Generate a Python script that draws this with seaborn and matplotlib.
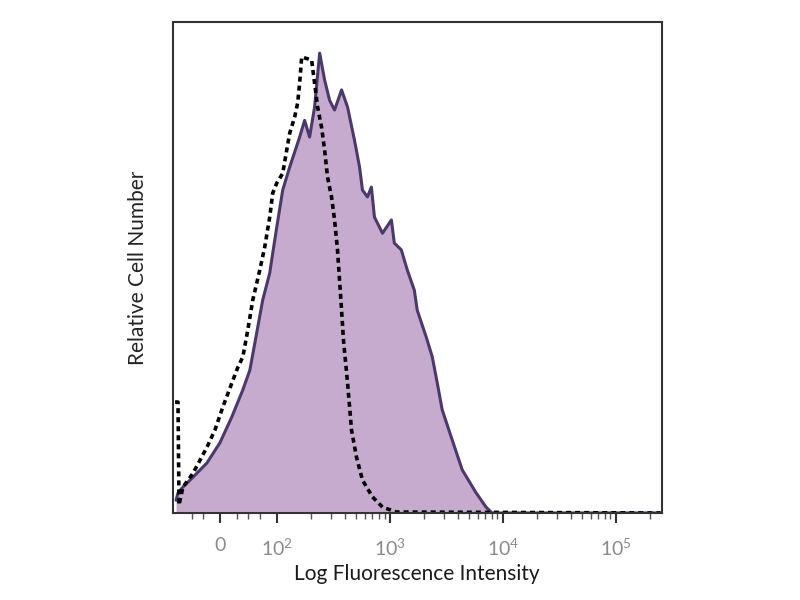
import numpy as np
import pandas as pd
import seaborn as sns
import matplotlib.pyplot as plt

# x in decade units (2 = 10^2, 3 = 10^3 ...), y = relative count (% of max axis)
stain_x = [1.109, 1.126, 1.170, 1.259, 1.382, 1.497, 1.603, 1.700, 1.762, 1.806, 1.876,
           1.938, 1.965, 2.000, 2.053, 2.115, 2.203, 2.247, 2.291, 2.335, 2.380, 2.424,
           2.468, 2.512, 2.574, 2.627, 2.688, 2.733, 2.759, 2.803, 2.838, 2.865, 2.936,
           3.015, 3.041, 3.103, 3.156, 3.218, 3.244, 3.324, 3.377, 3.421, 3.465, 3.553,
           3.642, 3.765, 3.853, 3.906, 5.398]
stain_y = [2.6, 4.1, 5.3, 7.3, 10.2, 14.3, 19.6, 25.1, 29.1, 34.6, 43.4,
           48.9, 53.0, 58.2, 65.8, 70.5, 76.6, 80.0, 76.6, 82.7, 93.7, 88.2,
           84.1, 82.1, 86.2, 82.7, 76.0, 70.5, 65.8, 64.4, 66.4, 60.3, 57.0,
           59.7, 55.0, 53.6, 49.5, 45.4, 41.3, 35.8, 31.8, 26.5, 21.0, 14.9,
           8.8, 4.1, 1.2, 0.0, 0.0]

iso_x = [1.100, 1.126, 1.135, 1.170, 1.259, 1.382, 1.453, 1.523, 1.603, 1.656, 1.700,
         1.744, 1.788, 1.850, 1.894, 1.938, 1.965, 2.000, 2.053, 2.088, 2.115, 2.159,
         2.185, 2.203, 2.221, 2.309, 2.335, 2.362, 2.397, 2.424, 2.450, 2.485, 2.512,
         2.538, 2.556, 2.574, 2.591, 2.627, 2.662, 2.706, 2.759, 2.847, 2.936, 3.059,
         5.398]
iso_y = [22.6, 22.6, 1.6, 5.3, 8.1, 13.4, 16.9, 21.6, 26.5, 29.7, 31.8,
         37.3, 43.4, 49.5, 54.2, 60.3, 65.2, 67.2, 69.2, 73.9, 77.4, 80.7,
         83.5, 87.6, 92.9, 92.3, 87.6, 82.7, 78.6, 73.9, 68.4, 64.4, 59.7,
         53.6, 47.5, 41.3, 35.2, 26.5, 16.9, 11.4, 6.7, 3.3, 1.2, 0.2,
         0.0]

tick_pos = [1.5, 2, 3, 4, 5]
tick_labels = ["0", "$10^{2}$", "$10^{3}$", "$10^{4}$", "$10^{5}$"]

stain = pd.DataFrame({"x": stain_x, "y": stain_y})
iso = pd.DataFrame({"x": iso_x, "y": iso_y})

sns.set_style("white")
plt.rcParams["font.family"] = ["Lato", "DejaVu Sans"]
plt.rcParams["mathtext.fontset"] = "custom"
plt.rcParams["mathtext.rm"] = "Lato"

fig = plt.figure(figsize=(8, 6), dpi=100)
ax = fig.add_axes([0.216, 0.145, 0.611, 0.818])

ax.fill_between(stain["x"], stain["y"], 0, color="#c6abcf", lw=0)
sns.lineplot(data=stain, x="x", y="y", ax=ax, color="#4a3a6c", lw=2.2,
             sort=False, estimator=None)
sns.lineplot(data=iso, x="x", y="y", ax=ax, color="black", lw=2.6,
             linestyle=(0, (1.4, 1.1)), sort=False, estimator=None)

ax.set_xlim(1.08, 5.407)
ax.set_ylim(0, 100)
ax.set_yticks([])
ax.set_xticks(tick_pos)
ax.set_xticklabels(tick_labels, color="#8a8a8a", fontsize=14)
ax.get_xticklabels()[0].set_x(1.55)
minor = [1.25, 1.35, 1.65, 1.75, 1.85]
for d in [2, 3, 4, 5]:
    minor += [d + np.log10(k) for k in range(2, 10)]
ax.set_xticks([m for m in minor if m < 5.4], minor=True)
ax.tick_params(axis="x", which="major", direction="out", length=7, width=1.5,
               color="#333333", bottom=True, pad=10)
ax.tick_params(axis="x", which="minor", direction="out", length=4, width=1,
               color="#555555", bottom=True)

for s in ax.spines.values():
    s.set_color("#333333")
    s.set_linewidth(1.5)

ax.set_xlabel("Log Fluorescence Intensity", fontsize=15, color="#1a1a1a", labelpad=4)
ax.set_ylabel("Relative Cell Number", fontsize=15, color="#222222", labelpad=18)

plt.savefig("out.png", dpi=100, facecolor="white")
